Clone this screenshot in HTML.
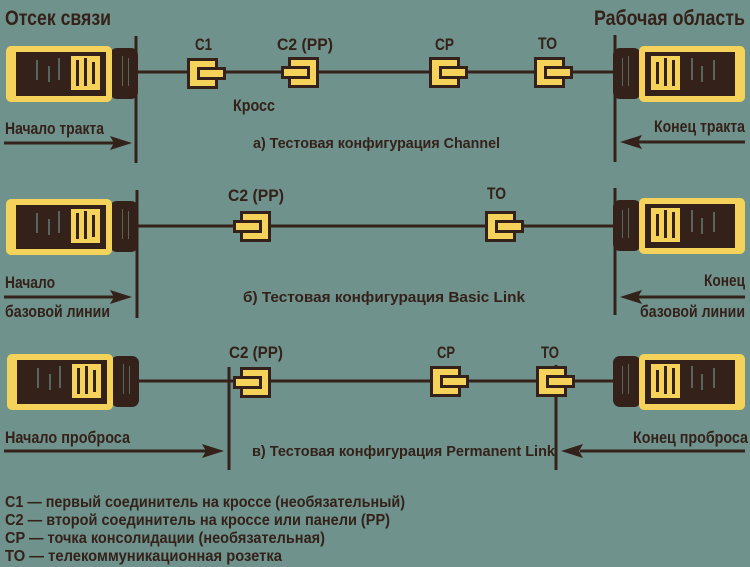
<!DOCTYPE html>
<html><head><meta charset="utf-8"><style>
html,body{margin:0;padding:0;background:#6f928c;}
svg{display:block;}
text{font-family:"Liberation Sans Narrow","Liberation Sans",sans-serif;fill:#33211a;font-weight:bold;}
</style></head><body>
<svg width="750" height="567" viewBox="0 0 750 567" xmlns="http://www.w3.org/2000/svg">
<defs>
<g id="dev">
  <rect x="104" y="2" width="28" height="51" rx="7" fill="#33211a"/>
  <rect x="0" y="0" width="106" height="56" rx="5" fill="#f5d35a"/>
  <rect x="10" y="6" width="90" height="44" fill="#33211a"/>
  <rect x="65" y="10" width="29" height="34" fill="#f5d35a"/>
  <rect x="70" y="14" width="3" height="26" fill="#33211a"/>
  <rect x="78" y="12" width="3" height="28" fill="#33211a"/>
  <rect x="86" y="16" width="3" height="22" fill="#33211a"/>
  <rect x="30" y="14" width="2" height="20" fill="#6f928c" opacity="0.6"/>
  <rect x="42" y="20" width="2" height="16" fill="#6f928c" opacity="0.6"/>
  <rect x="52" y="12" width="2" height="22" fill="#6f928c" opacity="0.6"/>
  <rect x="116" y="10" width="1" height="30" fill="#6f928c" opacity="0.6"/>
  <rect x="122" y="12" width="1" height="28" fill="#6f928c" opacity="0.6"/>
</g>
<g id="conR">
  <rect x="1.5" y="1.5" width="28" height="28" fill="#f5d35a" stroke="#33211a" stroke-width="3"/>
  <rect x="11.5" y="10.5" width="26" height="10" fill="#f5d35a" stroke="#33211a" stroke-width="3"/>
</g>
<g id="conL">
  <rect x="8.5" y="1.5" width="28" height="28" fill="#f5d35a" stroke="#33211a" stroke-width="3"/>
  <rect x="1.5" y="10.5" width="26" height="10" fill="#f5d35a" stroke="#33211a" stroke-width="3"/>
</g>
</defs>

<g stroke="#33211a" stroke-width="3" fill="none">
  <line x1="130" y1="72" x2="620" y2="72"/>
  <line x1="130" y1="226" x2="620" y2="226"/>
  <line x1="130" y1="381" x2="620" y2="381"/>
  <line x1="136" y1="36" x2="136" y2="163"/>
  <line x1="615" y1="35" x2="615" y2="162"/>
  <line x1="137" y1="190" x2="137" y2="318"/>
  <line x1="615" y1="188" x2="615" y2="315"/>
  <line x1="229" y1="367" x2="229" y2="470"/>
  <line x1="556" y1="365" x2="556" y2="470"/>
  <line x1="4" y1="143" x2="115" y2="143"/>
  <line x1="745" y1="142" x2="637" y2="142"/>
  <line x1="4" y1="297" x2="115" y2="297"/>
  <line x1="745" y1="297" x2="637" y2="297"/>
  <line x1="4" y1="451" x2="207" y2="451"/>
  <line x1="745" y1="451" x2="580" y2="451"/>
</g>
<g fill="#33211a">
  <polygon points="132,143 110,136 114,143 110,150"/>
  <polygon points="620,142 642,135 638,142 642,149"/>
  <polygon points="132,297 110,290 114,297 110,304"/>
  <polygon points="620,297 642,290 638,297 642,304"/>
  <polygon points="224,451 202,444 206,451 202,458"/>
  <polygon points="561,451 583,444 579,451 583,458"/>
</g>

<use href="#dev" x="6" y="46"/>
<use href="#dev" transform="translate(745,46) scale(-1,1)"/>
<use href="#dev" x="6" y="199"/>
<use href="#dev" transform="translate(745,198) scale(-1,1)"/>
<use href="#dev" x="7" y="354"/>
<use href="#dev" transform="translate(745,354) scale(-1,1)"/>

<use href="#conR" x="187" y="58"/>
<use href="#conL" x="281" y="57"/>
<use href="#conR" x="429" y="57"/>
<use href="#conR" x="534" y="57"/>
<use href="#conL" x="233" y="211"/>
<use href="#conR" x="485" y="211"/>
<use href="#conL" x="233" y="367"/>
<use href="#conR" x="430" y="366"/>
<use href="#conR" x="536" y="366"/>

<text x="5" y="25" font-size="21" textLength="106" lengthAdjust="spacingAndGlyphs">Отсек связи</text>
<text x="594" y="25" font-size="21" textLength="151" lengthAdjust="spacingAndGlyphs">Рабочая область</text>

<g font-size="17">
<text x="195" y="50" textLength="17" lengthAdjust="spacingAndGlyphs">C1</text>
<text x="277" y="50" textLength="56" lengthAdjust="spacingAndGlyphs">C2 (PP)</text>
<text x="435" y="50" textLength="19" lengthAdjust="spacingAndGlyphs">CP</text>
<text x="538" y="49" textLength="19" lengthAdjust="spacingAndGlyphs">TO</text>
<text x="233" y="111" textLength="42" lengthAdjust="spacingAndGlyphs">Кросс</text>
<text x="5" y="134" textLength="99" lengthAdjust="spacingAndGlyphs">Начало тракта</text>
<text x="654" y="132" textLength="91" lengthAdjust="spacingAndGlyphs">Конец тракта</text>
<text x="253" y="148" font-size="15" textLength="247" lengthAdjust="spacingAndGlyphs">а) Тестовая конфигурация Channel</text>

<text x="228" y="201" textLength="56" lengthAdjust="spacingAndGlyphs">C2 (PP)</text>
<text x="487" y="199" textLength="19" lengthAdjust="spacingAndGlyphs">TO</text>
<text x="5" y="288" textLength="50" lengthAdjust="spacingAndGlyphs">Начало</text>
<text x="5" y="317" textLength="105" lengthAdjust="spacingAndGlyphs">базовой линии</text>
<text x="704" y="286" textLength="41" lengthAdjust="spacingAndGlyphs">Конец</text>
<text x="640" y="317" textLength="105" lengthAdjust="spacingAndGlyphs">базовой линии</text>
<text x="243" y="302" font-size="15" textLength="282" lengthAdjust="spacingAndGlyphs">б) Тестовая конфигурация Basic Link</text>

<text x="229" y="358" textLength="54" lengthAdjust="spacingAndGlyphs">C2 (PP)</text>
<text x="437" y="358" textLength="18" lengthAdjust="spacingAndGlyphs">CP</text>
<text x="541" y="358" textLength="18" lengthAdjust="spacingAndGlyphs">TO</text>
<text x="5" y="443" textLength="125" lengthAdjust="spacingAndGlyphs">Начало проброса</text>
<text x="633" y="443" textLength="115" lengthAdjust="spacingAndGlyphs">Конец проброса</text>
<text x="252" y="456" font-size="15" textLength="303" lengthAdjust="spacingAndGlyphs">в) Тестовая конфигурация Permanent Link</text>

<g font-size="16">
<text x="5" y="507" textLength="400" lengthAdjust="spacingAndGlyphs">C1 — первый соединитель на кроссе (необязательный)</text>
<text x="5" y="525" textLength="385" lengthAdjust="spacingAndGlyphs">C2 — второй соединитель на кроссе или панели (PP)</text>
<text x="5" y="543" textLength="320" lengthAdjust="spacingAndGlyphs">CP — точка консолидации (необязательная)</text>
<text x="5" y="561" textLength="277" lengthAdjust="spacingAndGlyphs">TO — телекоммуникационная розетка</text>
</g>
</g>
</svg>
</body></html>
